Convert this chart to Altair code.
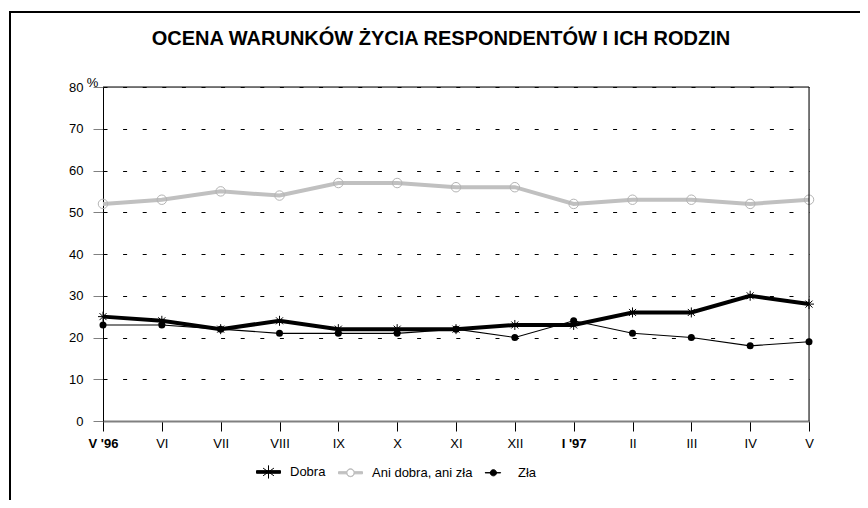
import altair as alt
import pandas as pd

months = ["V '96", "VI", "VII", "VIII", "IX", "X", "XI", "XII", "I '97", "II", "III", "IV", "V"]
dobra = [25, 24, 22, 24, 22, 22, 22, 23, 23, 26, 26, 30, 28]
ani = [52, 53, 55, 54, 57, 57, 56, 56, 52, 53, 53, 52, 53]
zla = [23, 23, 22, 21, 21, 21, 22, 20, 24, 21, 20, 18, 19]
series = ["Dobra", "Ani dobra, ani zła", "Zła"]
y_ticks = [0, 10, 20, 30, 40, 50, 60, 70, 80]

rows = []
for name, vals in zip(series, [dobra, ani, zla]):
    for i, (m, v) in enumerate(zip(months, vals)):
        rows.append({"miesiac": m, "wartosc": v, "seria": name, "idx": i})
df = pd.DataFrame(rows)

FONT = "Liberation Sans"
W, H = 706, 334

x_scale = alt.Scale(type="point", padding=0, domain=months)
y_scale = alt.Scale(domain=[0, 80], nice=False)

x_enc = alt.X("miesiac:O", scale=x_scale,
              axis=alt.Axis(title=None, labelAngle=0, domainColor="#808080", domainWidth=2,
                            tickColor="black", tickSize=10, labelFontSize=13, labelPadding=6,
                            labelColor="black", grid=False,
                            labelFontWeight={"condition": {"test": "datum.value === \"V '96\" || datum.value === \"I '97\"", "value": "bold"}, "value": "normal"}))
y_enc = alt.Y("wartosc:Q", scale=y_scale,
              axis=alt.Axis(values=y_ticks, title="%", titleAngle=0, titleX=-11, titleY=-5,
                            titleAlign="center", titleBaseline="middle", titleFontWeight="normal",
                            titleFontSize=13, titleFont=FONT,
                            domainColor="black", tickColor="#808080", tickSize=10,
                            labelFontSize=13, labelPadding=10, labelColor="black",
                            grid=True, gridColor="black", gridDash=[4, 15.6], gridWidth=1))

# legend symbol paths (line + marker)
sym_dobra = "M-1,-0.11L1,-0.11L1,0.11L-1,0.11ZM0,-0.55L0,0.55M-0.45,-0.32L0.45,0.32M-0.45,0.32L0.45,-0.32"
sym_ani = ("M-1,-0.09L-0.33,-0.09L-0.33,0.09L-1,0.09ZM0.33,-0.09L1,-0.09L1,0.09L0.33,0.09Z"
           "M0.33,0A0.33,0.33 0 1,0 -0.33,0A0.33,0.33 0 1,0 0.33,0Z"
           "M0.3,0A0.3,0.3 0 1,1 -0.3,0A0.3,0.3 0 1,1 0.3,0Z")
sym_zla = "M-0.95,-0.01L0.35,-0.01L0.35,0.01L-0.95,0.01ZM0.0,0A0.26,0.26 0 1,0 -0.52,0A0.26,0.26 0 1,0 0.0,0Z"

legend = alt.Legend(orient="none", legendX=153, legendY=372, direction="horizontal", title=None,
                    symbolSize=576, labelFontSize=13, labelFont=FONT, labelColor="black",
                    labelOffset=9, columnPadding=10, symbolOpacity=1, symbolStrokeWidth=1)

base = alt.Chart(df)

legend_layer = base.mark_point(opacity=0, filled=True).encode(
    x=x_enc, y=y_enc,
    shape=alt.Shape("seria:N", scale=alt.Scale(domain=series, range=[sym_dobra, sym_ani, sym_zla]), legend=legend),
    fill=alt.Fill("seria:N", scale=alt.Scale(domain=series, range=["black", "#c0c0c0", "black"]), legend=legend),
    stroke=alt.Stroke("seria:N", scale=alt.Scale(domain=series, range=["black", "#c0c0c0", "black"]), legend=legend),
)


def series_line(name, color, width):
    return base.transform_filter(alt.datum.seria == name).mark_line(
        color=color, strokeWidth=width, strokeJoin="miter").encode(x=x_enc, y=y_enc, order=alt.Order("idx:Q"))


pts_ani = base.transform_filter(alt.datum.seria == "Ani dobra, ani zła").mark_point(
    shape="circle", size=90, filled=False, stroke="#b4b4b4", strokeWidth=1, opacity=1).encode(x=x_enc, y=y_enc)
pts_dobra = base.transform_filter(alt.datum.seria == "Dobra").mark_point(
    shape="M-1,0L1,0M0,-1L0,1M-0.7,-0.7L0.7,0.7M-0.7,0.7L0.7,-0.7", size=100, filled=False,
    stroke="black", strokeWidth=1, opacity=1).encode(x=x_enc, y=y_enc)
pts_zla = base.transform_filter(alt.datum.seria == "Zła").mark_point(
    shape="circle", size=49, filled=True, fill="black", opacity=1).encode(x=x_enc, y=y_enc)

top_border = alt.Chart(pd.DataFrame({"v": [80]})).mark_rule(color="black", strokeWidth=1).encode(
    y=alt.Y("v:Q", scale=y_scale))
right_border = alt.Chart(pd.DataFrame({"m": ["V"]})).mark_rule(color="black", strokeWidth=1).encode(
    x=alt.X("m:O", scale=x_scale))

frame_top = alt.Chart(pd.DataFrame({"a": [0]})).mark_rule(color="black", strokeWidth=2).encode(
    x=alt.value(-93), x2=alt.value(760), y=alt.value(-75))
frame_left = alt.Chart(pd.DataFrame({"a": [0]})).mark_rule(color="black", strokeWidth=2).encode(
    x=alt.value(-93), y=alt.value(-76), y2=alt.value(420))

chart = alt.layer(
    legend_layer,
    series_line("Ani dobra, ani zła", "#c0c0c0", 4),
    pts_ani,
    series_line("Dobra", "black", 4),
    pts_dobra,
    series_line("Zła", "black", 1.1),
    pts_zla,
    top_border, right_border, frame_top, frame_left,
).properties(
    width=W, height=H,
    title=alt.TitleParams("OCENA WARUNKÓW ŻYCIA RESPONDENTÓW I ICH RODZIN", fontSize=20, fontWeight="bold",
                          font=FONT, color="black", offset=-39, dx=-15, anchor="middle", frame="group"),
    autosize=alt.AutoSizeParams(type="none"),
    padding={"left": 95, "top": 79, "right": 51, "bottom": 79},
).configure_view(stroke=None).configure(font=FONT).configure_axis(labelFont=FONT)

chart.save("out.html", embed_options={"renderer": "svg", "actions": False})
